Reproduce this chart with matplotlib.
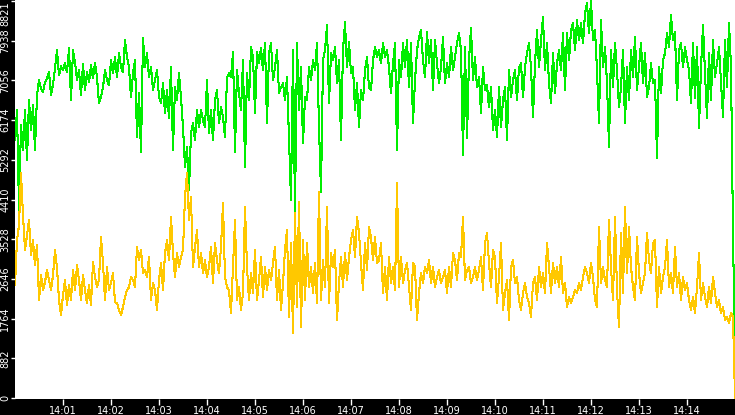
#!/usr/bin/env python3
"""Two noisy time series (green, yellow) over 15 minutes, dark frame style."""

import datetime as dt

import matplotlib

matplotlib.use("Agg")
import matplotlib.dates as mdates  # noqa: E402
import matplotlib.pyplot as plt  # noqa: E402

START = dt.datetime(2024, 1, 1, 14, 0, 0)
STEP_S = 2.5

# values, one every 2.5 s
GREEN = [
    5728, 6394, 4180, 6061, 5506, 6394, 5284, 6616, 5950, 6505, 5506, 6727, 7060, 6882, 6793, 7015, 7104, 7237, 6727, 6971,
    7326, 7726, 7171, 7370, 7282, 7437, 7237, 7770, 6616, 7726, 7459, 7060, 7282, 6727, 7415, 6838, 7237, 7015, 7393, 7104,
    7437, 7126, 6549, 6682, 6904, 7282, 7060, 6949, 7504, 7215, 7570, 7126, 7659, 7348, 7237, 7948, 7570, 7348, 6682, 7215,
    7504, 5794, 6771, 5461, 7992, 7348, 7659, 7126, 7348, 6838, 7060, 7282, 6682, 6549, 6993, 6327, 6838, 6216, 7348, 5506,
    6904, 6616, 7215, 6682, 6016, 5128, 5572, 4618, 5883, 6105, 5728, 6394, 6016, 6394, 6172, 6016, 7060, 5883, 6394, 5728,
    6616, 6838, 6105, 6460, 6238, 5794, 7126, 7215, 7126, 7681, 5461, 7282, 6771, 6394, 7504, 5128, 7215, 6616, 7792, 7570,
    6327, 7681, 7437, 7770, 7282, 7881, 6105, 7659, 7881, 7060, 7348, 7726, 6771, 6904, 6993, 6616, 7126, 5794, 4396, 7726,
    4129, 7881, 6394, 7348, 5661, 6682, 6616, 7348, 7060, 7504, 7282, 7881, 6016, 4573, 7504, 7726, 8281, 6549, 7659, 7504,
    7792, 6993, 7504, 5728, 7726, 8347, 7348, 7903, 7215, 7348, 6394, 6993, 6016, 6838, 6616, 7282, 7570, 6882, 6838, 7504,
    7792, 7570, 7726, 7437, 7881, 7570, 7726, 7348, 6771, 7437, 7881, 5506, 7504, 7126, 7881, 7348, 7948, 6904, 7881, 6105,
    7060, 7726, 8014, 8170, 7504, 7126, 8125, 7437, 7948, 6838, 7948, 7437, 6993, 7348, 8014, 6993, 7437, 7126, 7792, 7282,
    7570, 7881, 8103, 7726, 5395, 7792, 5772, 7504, 8214, 7060, 7570, 6904, 7126, 6327, 7348, 6838, 6949, 6460, 6904, 5950,
    6394, 5794, 6904, 6016, 6616, 6904, 5728, 7282, 6682, 7060, 7282, 6616, 7348, 7437, 6682, 7348, 7659, 7881, 7348, 6238,
    7437, 8170, 7348, 7948, 8458, 7282, 7881, 6993, 6549, 7659, 6771, 7437, 7726, 7282, 8103, 6838, 8103, 7504, 8170, 8325,
    7726, 8392, 7948, 8325, 7881, 8547, 8769, 8103, 8821, 7948, 8170, 7282, 6105, 8392, 7348, 7792, 6993, 5572, 7726, 6904,
    7881, 7282, 6460, 6904, 7726, 6105, 7348, 6616, 7726, 7126, 8014, 6838, 7348, 7881, 6993, 7659, 6682, 6904, 7437, 6993,
    7060, 5328, 7348, 6771, 7504, 7659, 8103, 7792, 8503, 7948, 8125, 6616, 7726, 7881, 7348, 7792, 7504, 7282, 6549, 7881,
    6660, 7792, 5994, 7348, 8281, 7215, 6216, 7659, 6616, 7948, 7126, 7437, 7792, 6993, 6238, 7948, 6904, 8325, 7348, 3663,
    800,
]

YELLOW = [
    2509, 3508, 3841, 5000, 4063, 3286, 3619, 3952, 3175, 3508, 2953, 3397, 2176, 2731, 2398, 2575, 2842, 2620, 2398, 2731,
    3286, 2886, 2176, 1843, 2287, 2620, 2065, 2509, 2176, 2842, 2398, 2953, 2620, 2176, 2731, 2398, 2109, 2509, 2065, 3019,
    2686, 2464, 2620, 3574, 2997, 2176, 2908, 2398, 2553, 2775, 2131, 2109, 1954, 1843, 2020, 2242, 2398, 2464, 2686, 2620,
    2464, 3352, 3064, 3286, 2775, 2842, 2686, 3130, 2176, 2553, 2398, 1954, 2620, 2997, 2398, 3219, 3508, 3064, 4018, 3219,
    2686, 3219, 2908, 3130, 3286, 4462, 4995, 3952, 4462, 2908, 3352, 3730, 2908, 3219, 2775, 3064, 2686, 2908, 3352, 2553,
    3441, 3064, 2775, 3352, 4329, 2686, 2464, 2398, 1887, 2908, 3952, 2176, 2464, 1954, 2331, 4240, 2908, 2176, 2775, 2331,
    3286, 2176, 2620, 3130, 2242, 2908, 2398, 2842, 2620, 2997, 3352, 2176, 2842, 1954, 2553, 3286, 3730, 1798, 3441, 1443,
    4107, 2020, 4351, 1576, 3508, 2176, 3441, 2464, 2908, 2331, 2997, 2109, 4573, 2176, 3064, 2464, 4240, 2109, 3219, 2908,
    3286, 1732, 2553, 3130, 2464, 3219, 2620, 3130, 3508, 3730, 3130, 4018, 3663, 2997, 2398, 3441, 2842, 3796, 3574, 3064,
    3574, 2997, 3064, 3441, 2331, 2908, 2176, 3130, 2553, 2908, 2398, 4773, 2464, 3130, 2553, 2842, 2997, 2464, 1954, 2997,
    2908, 1732, 2331, 2775, 2553, 2908, 2775, 3064, 2553, 2908, 2464, 2686, 2842, 2553, 2686, 2842, 2331, 2908, 2464, 3219,
    3064, 2620, 3219, 3130, 4018, 2620, 2842, 2908, 2553, 2686, 2908, 2620, 2842, 3130, 2398, 3441, 3663, 2997, 2464, 3286,
    3130, 2109, 2686, 3441, 1954, 2331, 2620, 1732, 2908, 3064, 2553, 2686, 2176, 1954, 2331, 2553, 2242, 2109, 1798, 2553,
    2686, 2176, 2908, 2464, 2775, 2331, 3441, 2908, 2331, 2997, 2553, 2908, 2464, 3130, 2331, 2553, 2020, 2242, 2109, 2242,
    2398, 2331, 2553, 2398, 2686, 2908, 2775, 2553, 2997, 2686, 2176, 2020, 3796, 2553, 2908, 2620, 2464, 3952, 2908, 2176,
    4018, 2398, 1576, 3663, 2331, 4240, 2775, 3796, 2908, 2464, 2176, 3574, 2775, 2331, 2553, 2775, 3663, 3064, 2775, 3441,
    3508, 2020, 2908, 2331, 2686, 2908, 3508, 2464, 2775, 2331, 3352, 2464, 2775, 2176, 2686, 2398, 2553, 2176, 1954, 2242,
    1887, 2464, 3219, 2176, 2553, 2242, 2020, 2464, 2109, 2686, 2331, 2020, 2176, 1887, 2020, 1732, 1798, 1665, 1887, 1798,
    0,
]

Y_TICKS = [0, 882, 1764, 2646, 3528, 4410, 5292, 6174, 7056, 7938, 8821]

GREEN_COLOR = "#00ee00"
YELLOW_COLOR = "#ffc800"


def main():
    times = [START + dt.timedelta(seconds=i * STEP_S) for i in range(len(GREEN))]
    times_y = [START + dt.timedelta(seconds=i * STEP_S) for i in range(len(YELLOW))]

    fig = plt.figure(figsize=(7.35, 4.15), dpi=100, facecolor="black")
    ax = fig.add_axes([15 / 735, 16 / 415, 720 / 735, 399 / 415])
    ax.set_facecolor("white")

    ax.plot(times, GREEN, color=GREEN_COLOR, linewidth=0.75, antialiased=False)
    ax.plot(times_y, YELLOW, color=YELLOW_COLOR, linewidth=0.75, antialiased=False)

    ax.set_xlim(START, START + dt.timedelta(minutes=15))
    ax.set_ylim(-22, 8843)

    ax.set_yticks(Y_TICKS)
    labels = ax.set_yticklabels([str(v) for v in Y_TICKS], rotation=90, va="center")
    labels[-1].set_va("top")

    ax.xaxis.set_major_locator(mdates.MinuteLocator(byminute=range(1, 15)))
    ax.xaxis.set_major_formatter(mdates.DateFormatter("%H:%M"))

    ax.tick_params(colors="white", labelsize=7, width=1)
    ax.tick_params(axis="x", length=4.3, pad=0.5)
    ax.tick_params(axis="y", length=3, pad=0.3)
    for spine in ax.spines.values():
        spine.set_visible(False)

    fig.savefig("out.png", dpi=100, facecolor="black")
    plt.close(fig)


if __name__ == "__main__":
    main()
